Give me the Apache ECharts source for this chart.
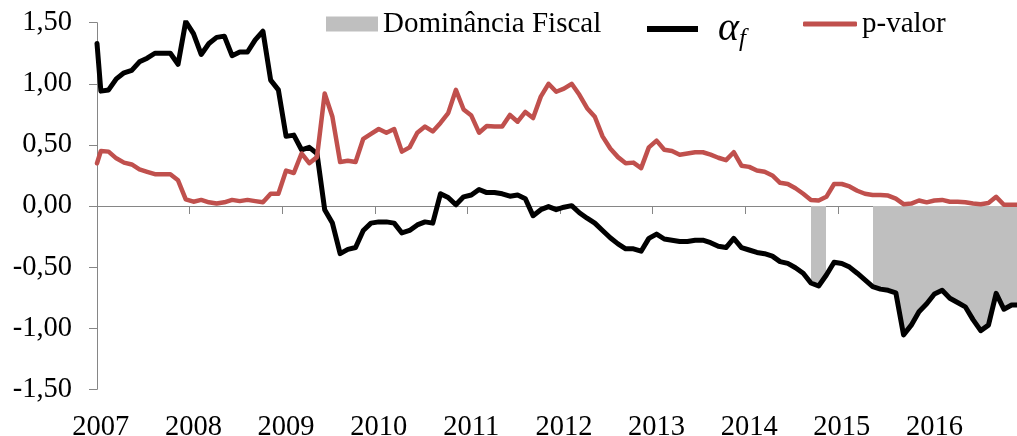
<!DOCTYPE html>
<html><head><meta charset="utf-8">
<script src="https://cdn.jsdelivr.net/npm/echarts@6/dist/echarts.min.js"></script>
<style>html,body{margin:0;padding:0;background:#fff}#c{width:1017px;height:436px}</style>
</head><body><div id="c"></div>
<script>
// ---- data ----
const years = ['2007','2008','2009','2010','2011','2012','2013','2014','2015','2016'];
// x position of each observation, in months since the start of Jan 2007
const monthPos = [0].concat(Array.from({length: 120}, (_, k) => k + 0.5));
const alphaF = [1.33,
  0.94,0.95,1.04,1.09,1.11,1.18,1.21,1.25,1.25,1.25,1.16,1.51,
  1.41,1.24,1.33,1.38,1.39,1.23,1.26,1.26,1.36,1.43,1.03,0.95,
  0.57,0.58,0.46,0.48,0.43,-0.03,-0.14,-0.39,-0.355,-0.34,-0.20,-0.14,
  -0.13,-0.13,-0.14,-0.22,-0.20,-0.155,-0.13,-0.14,0.10,0.07,0.01,0.075,
  0.09,0.135,0.11,0.11,0.10,0.08,0.09,0.06,-0.08,-0.03,-0.005,-0.03,
  -0.01,0.003,-0.055,-0.10,-0.14,-0.20,-0.26,-0.31,-0.35,-0.35,-0.37,-0.265,
  -0.23,-0.27,-0.28,-0.29,-0.29,-0.28,-0.28,-0.30,-0.33,-0.34,-0.265,-0.34,
  -0.36,-0.38,-0.39,-0.41,-0.455,-0.47,-0.505,-0.55,-0.63,-0.655,-0.565,-0.46,
  -0.47,-0.50,-0.55,-0.605,-0.66,-0.68,-0.69,-0.71,-1.055,-0.975,-0.865,-0.80,
  -0.72,-0.69,-0.755,-0.79,-0.825,-0.93,-1.02,-0.975,-0.715,-0.845,-0.81,-0.81];
const pValor = [0.35,
  0.45,0.445,0.39,0.355,0.34,0.30,0.28,0.26,0.26,0.26,0.21,0.055,
  0.035,0.05,0.03,0.02,0.03,0.05,0.04,0.05,0.04,0.03,0.10,0.10,
  0.29,0.27,0.43,0.35,0.40,0.92,0.73,0.36,0.37,0.36,0.55,0.59,
  0.63,0.60,0.63,0.445,0.48,0.60,0.65,0.61,0.68,0.76,0.95,0.79,
  0.74,0.60,0.655,0.65,0.65,0.745,0.69,0.77,0.72,0.895,1.00,0.935,
  0.96,1.00,0.91,0.80,0.73,0.57,0.47,0.40,0.35,0.355,0.31,0.48,
  0.535,0.46,0.45,0.42,0.43,0.44,0.44,0.42,0.395,0.375,0.44,0.33,
  0.32,0.29,0.28,0.25,0.19,0.18,0.145,0.10,0.05,0.045,0.075,0.18,
  0.18,0.16,0.125,0.10,0.09,0.09,0.085,0.06,0.015,0.02,0.045,0.03,
  0.045,0.05,0.035,0.035,0.03,0.02,0.015,0.025,0.075,0.01,0.01,0.01];
// fiscal-dominance periods [from, to] in months since Jan 2007
const dominance = [[92.5, 94.5], [100.5, 121]];
const yMin = -1.5, yMax = 1.5, yStep = 0.5;
const xMax = 119.2;            // visible span of the time axis, in months

// ---- chart ----
const FONT = "'Liberation Serif', 'Times New Roman', serif";
const GRAY_AX = '#868686';
const yearTicks = years.map((_, i) => i * 12);
const chart = echarts.init(document.getElementById('c'), null, {renderer: 'canvas'});
chart.setOption({
  animation: false,
  backgroundColor: '#ffffff',
  grid: {left: 97, top: 22.7, right: 0, height: 366.6, containLabel: false, outerBoundsMode: 'none'},
  xAxis: [{
    type: 'value', min: 0, max: xMax,
    axisLine: {show: true, onZero: true, lineStyle: {color: GRAY_AX, width: 1}},
    axisTick: {show: true, length: 8, customValues: yearTicks, lineStyle: {color: GRAY_AX, width: 1}},
    axisLabel: {show: false}, splitLine: {show: false}
  }, {
    type: 'value', min: 0, max: xMax, position: 'bottom',
    axisLine: {show: false, onZero: false}, axisTick: {show: false}, splitLine: {show: false},
    axisLabel: {customValues: yearTicks, margin: 24, color: '#000', fontFamily: FONT, fontSize: 28.5,
      padding: [0, 0, 0, 7.7],
      formatter: v => years[Math.round(v / 12)] || ''}
  }],
  yAxis: {
    type: 'value', min: yMin, max: yMax, interval: yStep,
    axisLine: {show: true, lineStyle: {color: GRAY_AX, width: 1}},
    axisTick: {show: true, length: 8, lineStyle: {color: GRAY_AX, width: 1}},
    splitLine: {show: false},
    axisLabel: {margin: 25, color: '#000', fontFamily: FONT, fontSize: 28.5,
      formatter: v => v.toFixed(2).replace('.', ',')}
  },
  visualMap: {
    type: 'piecewise', show: false, dimension: 0, seriesIndex: 0,
    pieces: dominance.map(([a, b]) => ({gte: a, lte: b, color: '#BFBFBF'})),
    outOfRange: {color: 'rgba(0,0,0,0)'}
  },
  legend: [{
    left: 326, top: 9, padding: 0, icon: 'rect', itemWidth: 52, itemHeight: 15,
    data: [{name: 'Dominância Fiscal', itemStyle: {color: '#BFBFBF'}}],
    textStyle: {fontFamily: FONT, fontSize: 29, color: '#000', lineHeight: 30}
  }, {
    left: 647, top: 9, padding: 0, icon: 'rect', itemWidth: 51, itemHeight: 6,
    data: [{name: 'αf', itemStyle: {color: '#000'}}],
    formatter: () => '{a|α}{s|f}',
    textStyle: {fontFamily: FONT, fontSize: 29, color: '#000', lineHeight: 30,
      rich: {
        a: {fontFamily: FONT, fontStyle: 'italic', fontSize: 40, color: '#000', padding: [0, 0, 0, 15]},
        s: {fontFamily: FONT, fontStyle: 'italic', fontSize: 25, color: '#000', padding: [20, 0, 0, 0]}
      }}
  }, {
    left: 803, top: 9, padding: 0, icon: 'roundRect', itemWidth: 54, itemHeight: 5,
    data: [{name: 'p-valor', itemStyle: {color: '#C0504D'}}],
    textStyle: {fontFamily: FONT, fontSize: 29, color: '#000', lineHeight: 30}
  }],
  series: [{
    name: 'Dominância Fiscal', type: 'line', xAxisIndex: 0,
    data: monthPos.map((x, i) => [x, alphaF[i]]),
    showSymbol: false, symbol: 'none', silent: true,
    lineStyle: {width: 0, opacity: 0},
    itemStyle: {color: '#BFBFBF'},
    areaStyle: {opacity: 1}, z: 1
  }, {
    name: 'αf', type: 'line', xAxisIndex: 0,
    data: monthPos.map((x, i) => [x, alphaF[i]]),
    showSymbol: false, symbol: 'none',
    lineStyle: {color: '#000', width: 5, join: 'round', cap: 'round'},
    itemStyle: {color: '#000'}, z: 3
  }, {
    name: 'p-valor', type: 'line', xAxisIndex: 0,
    data: monthPos.map((x, i) => [x, pValor[i]]),
    showSymbol: false, symbol: 'none',
    lineStyle: {color: '#C0504D', width: 4.5, join: 'round', cap: 'round'},
    itemStyle: {color: '#C0504D'}, z: 4
  }]
});
</script></body></html>
